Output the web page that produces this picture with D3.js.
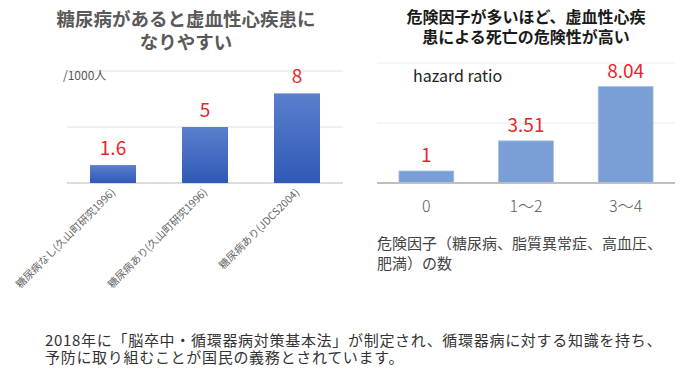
<!DOCTYPE html>
<html>
<head>
<meta charset="utf-8">
<script src="https://cdn.jsdelivr.net/npm/d3@7"></script>
<style>
  body { margin: 0; background: #fff; }
  text { font-family: "Noto Sans CJK JP", "Noto Sans", sans-serif; }
</style>
</head>
<body>
<svg id="chart" width="700" height="374"></svg>
<script>
// left chart: incidence per 1000
const leftCats = ["糖尿病なし(久山町研究1996)", "糖尿病あり(久山町研究1996)", "糖尿病あり(JDCS2004)"];
const leftVals = [1.6, 5, 8];
const leftLabels = ["1.6", "5", "8"];
const leftTitle = ["糖尿病があると虚血性心疾患に", "なりやすい"];
const leftGrid = [0, 5, 10];

// right chart: hazard ratio by number of risk factors
const rightCats = ["0", "1～2", "3～4"];
const rightVals = [1, 3.51, 8.04];
const rightLabels = ["1", "3.51", "8.04"];
const rightTitle = ["危険因子が多いほど、虚血性心疾", "患による死亡の危険性が高い"];
const rightGrid = [0, 5, 10];
const rightCaption = ["危険因子（糖尿病、脂質異常症、高血圧、", "肥満）の数"];

const footer = ["2018年に「脳卒中・循環器病対策基本法」が制定され、循環器病に対する知識を持ち、",
  "予防に取り組むことが国民の義務とされています。"];

const svg = d3.select("#chart");

const defs = svg.append("defs");
const grad = defs.append("linearGradient")
  .attr("id", "leftGrad").attr("x1", 0).attr("y1", 0).attr("x2", 0).attr("y2", 1);
grad.append("stop").attr("offset", "0%").attr("stop-color", "#5b7fcd");
grad.append("stop").attr("offset", "100%").attr("stop-color", "#2e59b6");

// ---- left chart ----
let x1 = d3.scaleBand().domain(leftCats).range([67, 343]).paddingInner(0.5).paddingOuter(0.25);
let y1 = d3.scaleLinear().domain([0, 10]).range([183, 71]);

let gL = svg.append("g");
gL.selectAll("line.grid").data(leftGrid).enter().append("line")
  .attr("class", "grid")
  .attr("x1", 67).attr("x2", 343)
  .attr("y1", d => y1(d)).attr("y2", d => y1(d))
  .attr("stroke", d => d === 0 ? "#d0d0d0" : "#e0e0e0")
  .attr("stroke-width", d => d === 0 ? 1.5 : 1);

gL.selectAll("rect").data(leftVals).enter().append("rect")
  .attr("x", (d, i) => x1(leftCats[i]))
  .attr("width", x1.bandwidth())
  .attr("y", d => y1(d))
  .attr("height", d => y1(0) - y1(d))
  .attr("fill", "url(#leftGrad)");

gL.selectAll("text.val").data(leftVals).enter().append("text")
  .attr("class", "val")
  .attr("x", (d, i) => x1(leftCats[i]) + x1.bandwidth() / 2)
  .attr("y", d => y1(d) - 10)
  .attr("text-anchor", "middle")
  .attr("font-size", 19)
  .attr("fill", "#e8262b")
  .text((d, i) => leftLabels[i]);

gL.append("text")
  .attr("x", 63).attr("y", 80)
  .attr("font-size", 12)
  .attr("fill", "#555")
  .text("/1000人");

gL.selectAll("text.cat").data(leftCats).enter().append("text")
  .attr("class", "cat")
  .attr("transform", d => `translate(${x1(d) + x1.bandwidth() / 2 + 3},193) rotate(-45)`)
  .attr("text-anchor", "end")
  .attr("font-size", 10.5)
  .attr("fill", "#666")
  .text(d => d);

gL.selectAll("text.title").data(leftTitle).enter().append("text")
  .attr("class", "title")
  .attr("x", 186)
  .attr("y", (d, i) => 26 + i * 23)
  .attr("text-anchor", "middle")
  .attr("font-size", 18.5)
  .attr("font-weight", "bold")
  .attr("fill", "#595959")
  .text(d => d);

// ---- right chart ----
let x2 = d3.scaleBand().domain(rightCats).range([377, 675]).paddingInner(0.45).paddingOuter(0.22);
let y2 = d3.scaleLinear().domain([0, 10]).range([183, 63]);

let gR = svg.append("g");
gR.selectAll("line.grid").data(rightGrid.filter(d => d > 0)).enter().append("line")
  .attr("class", "grid")
  .attr("x1", 377).attr("x2", 675)
  .attr("y1", d => y2(d)).attr("y2", d => y2(d))
  .attr("stroke", "#ececec");

gR.selectAll("rect").data(rightVals).enter().append("rect")
  .attr("x", (d, i) => x2(rightCats[i]))
  .attr("width", x2.bandwidth())
  .attr("y", d => y2(d))
  .attr("height", d => y2(0) - y2(d))
  .attr("fill", "#7a9ed6")
  .attr("stroke", "#a9c0e6")
  .attr("stroke-width", 0.8);

gR.append("line")
  .attr("x1", 377).attr("x2", 675)
  .attr("y1", y2(0)).attr("y2", y2(0))
  .attr("stroke", "#bfbfbf").attr("stroke-width", 2);

gR.selectAll("text.val").data(rightVals).enter().append("text")
  .attr("class", "val")
  .attr("x", (d, i) => x2(rightCats[i]) + x2.bandwidth() / 2)
  .attr("y", d => y2(d) - 9)
  .attr("text-anchor", "middle")
  .attr("font-size", 19)
  .attr("fill", "#e8262b")
  .text((d, i) => rightLabels[i]);

// x axis labels
let xAxis = d3.axisBottom(x2).tickSize(0).tickPadding(0);
let ax = gR.append("g").attr("transform", "translate(0,199)").call(xAxis);
ax.select(".domain").remove();
ax.selectAll("text")
  .attr("font-size", 16)
  .attr("fill", "#595959")
  .attr("font-weight", 300)
  .attr("dy", "0.8em");

gR.append("text")
  .attr("x", 413).attr("y", 82)
  .attr("font-size", 16)
  .attr("fill", "#222")
  .text("hazard ratio");

gR.selectAll("text.cap").data(rightCaption).enter().append("text")
  .attr("class", "cap")
  .attr("x", 377)
  .attr("y", (d, i) => 249 + i * 20)
  .attr("font-size", 15)
  .attr("fill", "#444")
  .text(d => d);

gR.selectAll("text.title").data(rightTitle).enter().append("text")
  .attr("class", "title")
  .attr("x", 526)
  .attr("y", (d, i) => 23 + i * 20)
  .attr("text-anchor", "middle")
  .attr("font-size", 16)
  .attr("font-weight", "bold")
  .attr("fill", "#1a1a1a")
  .text(d => d);

// footer note
svg.selectAll("text.foot").data(footer).enter().append("text")
  .attr("class", "foot")
  .attr("x", 45)
  .attr("y", (d, i) => 346 + i * 17)
  .attr("font-size", 15)
  .attr("letter-spacing", 0.7)
  .attr("fill", "#333")
  .text(d => d);
</script>
</body>
</html>
